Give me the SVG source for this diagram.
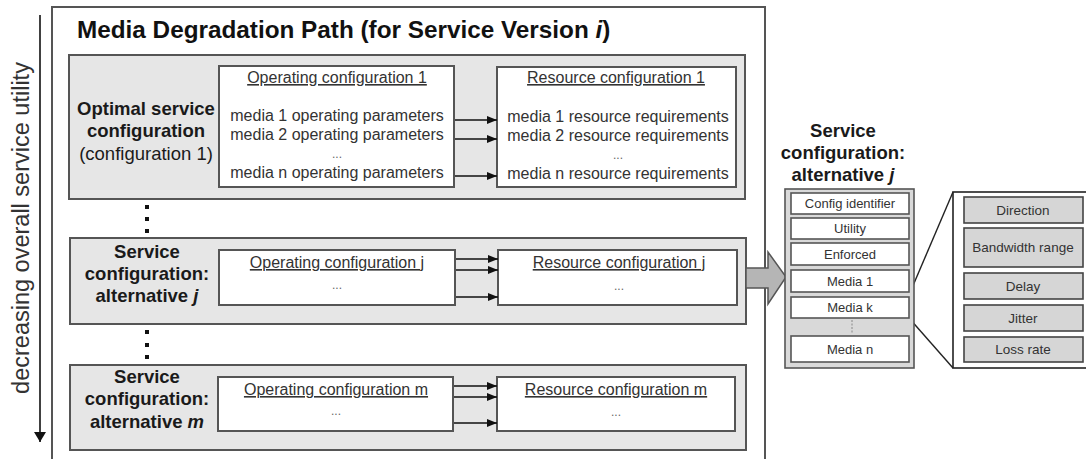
<svg xmlns="http://www.w3.org/2000/svg" width="1086" height="459" viewBox="0 0 1086 459">
<defs>
<style>
text{font-family:"Liberation Sans",Arial,sans-serif;}
.panel{fill:#e6e6e6;stroke:#555;stroke-width:2;}
.wbox{fill:#fff;stroke:#555;stroke-width:2;}
.lbl{font-size:18.5px;font-weight:bold;fill:#1a1a1a;text-anchor:middle;}
.lbln{font-size:18.5px;fill:#1a1a1a;text-anchor:middle;}
.hd{font-size:16px;fill:#333;text-anchor:middle;text-decoration:underline;}
.bt{font-size:16px;fill:#333;text-anchor:middle;}
.dots{font-size:12px;fill:#666;text-anchor:middle;}
.conn{stroke:#111;stroke-width:1.6;fill:none;marker-end:url(#ah);}
.row{fill:#fff;stroke:#555;stroke-width:1.6;}
.rt{font-size:13px;fill:#333;text-anchor:middle;}
.drow{fill:#d6d6d6;stroke:#444;stroke-width:1.6;}
.dt{font-size:13.5px;fill:#333;text-anchor:middle;}
.vd{fill:#111;}
</style>
<marker id="ah" viewBox="0 0 10 8" refX="10" refY="4" markerWidth="10" markerHeight="8" markerUnits="userSpaceOnUse" orient="auto">
<path d="M0,0 L10,4 L0,8 Z" fill="#111"/>
</marker>
<marker id="ah2" viewBox="0 0 10 12" refX="10" refY="6" markerWidth="10" markerHeight="12" markerUnits="userSpaceOnUse" orient="auto">
<path d="M0,0 L10,6 L0,12 Z" fill="#111"/>
</marker>
</defs>

<g id="utility-axis">
<line x1="40" y1="15" x2="40" y2="442" stroke="#111" stroke-width="1.6" marker-end="url(#ah2)"/>
<text transform="translate(29,228) rotate(-90)" font-size="23.5" fill="#333" text-anchor="middle">decreasing overall service utility</text>
</g>

<g id="degradation-path">
<rect x="52" y="7" width="713" height="460" fill="#fff" stroke="#555" stroke-width="2"/>
<text x="77" y="38" font-size="24.3" font-weight="bold" fill="#111">Media Degradation Path (for Service Version <tspan font-style="italic">i</tspan>)</text>
</g>

<g id="config-1">
<rect class="panel" x="69" y="55" width="676" height="144"/>
<text class="lbl" x="146" y="115">Optimal service</text>
<text class="lbl" x="146" y="137">configuration</text>
<text class="lbln" x="146" y="160">(configuration 1)</text>
<rect class="wbox" x="219" y="66" width="235" height="121"/>
<text class="hd" x="337" y="83">Operating configuration 1</text>
<text class="bt" x="337" y="121">media 1 operating parameters</text>
<text class="bt" x="337" y="140">media 2 operating parameters</text>
<text class="dots" x="337" y="158">...</text>
<text class="bt" x="337" y="178">media n operating parameters</text>
<rect class="wbox" x="497" y="67" width="239" height="120"/>
<text class="hd" x="616" y="83">Resource configuration 1</text>
<text class="bt" x="618" y="122">media 1 resource requirements</text>
<text class="bt" x="618" y="141">media 2 resource requirements</text>
<text class="dots" x="618" y="159">...</text>
<text class="bt" x="618" y="179">media n resource requirements</text>
</g>

<g id="ellipsis-dots">
<rect class="vd" x="145" y="205" width="4" height="4"/>
<rect class="vd" x="145" y="217" width="4" height="4"/>
<rect class="vd" x="145" y="229" width="4" height="4"/>
<rect class="vd" x="145" y="330" width="4" height="4"/>
<rect class="vd" x="145" y="343" width="4" height="4"/>
<rect class="vd" x="145" y="355" width="4" height="4"/>
</g>

<g id="config-j">
<rect class="panel" x="70" y="238" width="676" height="86"/>
<text class="lbl" x="147" y="258">Service</text>
<text class="lbl" x="147" y="280">configuration:</text>
<text class="lbl" x="147" y="302">alternative <tspan font-style="italic">j</tspan></text>
<rect class="wbox" x="219" y="250" width="236" height="55"/>
<text class="hd" x="337" y="268">Operating configuration j</text>
<text class="dots" x="337" y="289">...</text>
<rect class="wbox" x="498" y="250" width="239" height="55"/>
<text class="hd" x="619" y="268">Resource configuration j</text>
<text class="dots" x="619" y="290">...</text>
</g>

<g id="config-m">
<rect class="panel" x="70" y="365" width="676" height="85"/>
<text class="lbl" x="147" y="383">Service</text>
<text class="lbl" x="147" y="405">configuration:</text>
<text class="lbl" x="147" y="428">alternative <tspan font-style="italic">m</tspan></text>
<rect class="wbox" x="218" y="377" width="235" height="54"/>
<text class="hd" x="336" y="395">Operating configuration m</text>
<text class="dots" x="336" y="415">...</text>
<rect class="wbox" x="497" y="377" width="238" height="54"/>
<text class="hd" x="616" y="395">Resource configuration m</text>
<text class="dots" x="616" y="416">...</text>
</g>

<g id="connectors">
<line class="conn" x1="455" y1="120" x2="497" y2="120"/>
<line class="conn" x1="455" y1="139" x2="497" y2="139"/>
<line class="conn" x1="455" y1="176" x2="497" y2="176"/>
<line class="conn" x1="456" y1="259" x2="498" y2="259"/>
<line class="conn" x1="456" y1="270" x2="498" y2="270"/>
<line class="conn" x1="456" y1="297" x2="498" y2="297"/>
<line class="conn" x1="454" y1="386" x2="497" y2="386"/>
<line class="conn" x1="454" y1="397" x2="497" y2="397"/>
<line class="conn" x1="454" y1="423" x2="497" y2="423"/>
<polygon points="746,268 768,268 768,252 786,277 768,304 768,288 746,288" fill="#b5b5b5" stroke="#555" stroke-width="1.5"/>
<line x1="909" y1="295" x2="953" y2="192" stroke="#222" stroke-width="1.4"/>
<line x1="909" y1="318" x2="953" y2="368" stroke="#222" stroke-width="1.4"/>
</g>

<g id="alternative-j-title">
<text class="lbl" x="843" y="137">Service</text>
<text class="lbl" x="843" y="159">configuration:</text>
<text class="lbl" x="843" y="181">alternative <tspan font-style="italic">j</tspan></text>
</g>

<g id="alternative-j-stack">
<rect x="785" y="189" width="129" height="179" fill="#d9d9d9" stroke="#555" stroke-width="1.6"/>
<rect class="row" x="791" y="193" width="118" height="21"/>
<text class="rt" x="850" y="208">Config identifier</text>
<rect class="row" x="791" y="218" width="118" height="21"/>
<text class="rt" x="850" y="233">Utility</text>
<rect class="row" x="791" y="243" width="118" height="22"/>
<text class="rt" x="850" y="259">Enforced</text>
<rect class="row" x="791" y="270" width="118" height="22"/>
<text class="rt" x="850" y="286">Media 1</text>
<rect class="row" x="791" y="297" width="118" height="21"/>
<text class="rt" x="850" y="312">Media k</text>
<line x1="852" y1="320" x2="852" y2="334" stroke="#888" stroke-width="1" stroke-dasharray="2,1.5"/>
<rect class="row" x="791" y="336" width="118" height="26"/>
<text class="rt" x="850" y="354">Media n</text>
</g>

<g id="media-k-detail">
<rect x="953" y="192" width="134" height="176" fill="#fff" stroke="#222" stroke-width="1.6"/>
<rect class="drow" x="964" y="197" width="119" height="26"/>
<text class="dt" x="1023" y="215">Direction</text>
<rect class="drow" x="964" y="228" width="119" height="39"/>
<text class="dt" x="1023" y="252">Bandwidth range</text>
<rect class="drow" x="964" y="273" width="119" height="26"/>
<text class="dt" x="1023" y="291">Delay</text>
<rect class="drow" x="964" y="305" width="119" height="26"/>
<text class="dt" x="1023" y="323">Jitter</text>
<rect class="drow" x="964" y="337" width="119" height="25"/>
<text class="dt" x="1023" y="354">Loss rate</text>
</g>
</svg>
